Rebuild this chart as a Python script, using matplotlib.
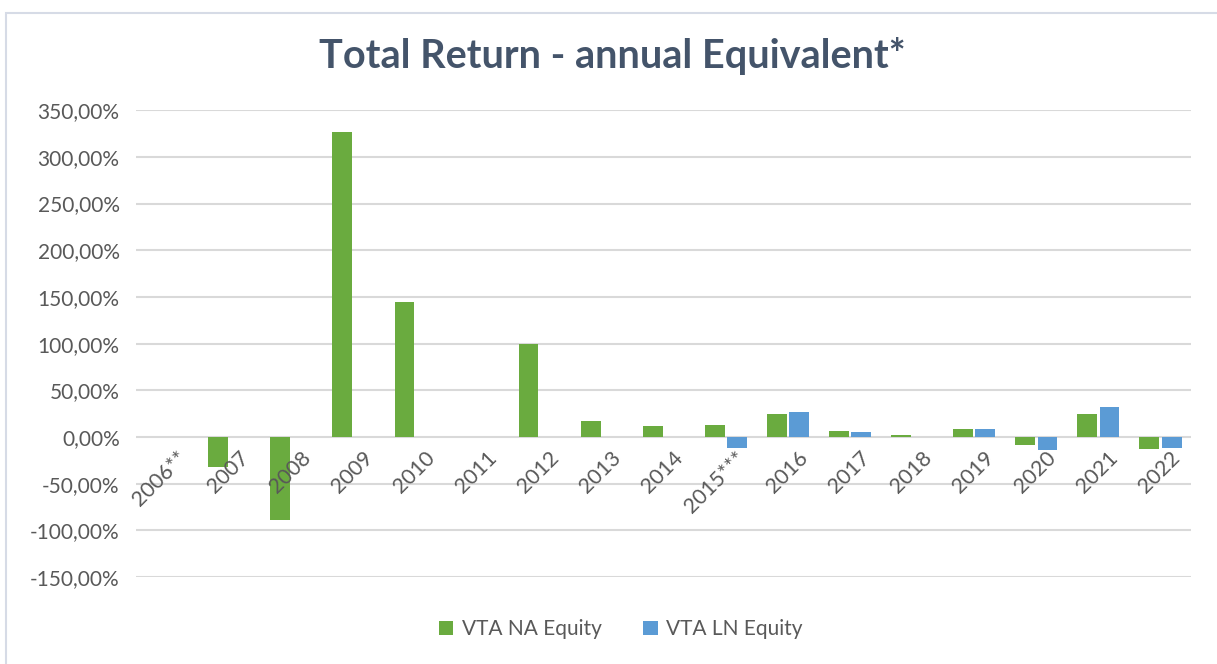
import matplotlib
matplotlib.use("Agg")
import matplotlib.pyplot as plt
import numpy as np
from matplotlib.ticker import FuncFormatter
from matplotlib.patches import Rectangle

years = ["2006**", "2007", "2008", "2009", "2010", "2011", "2012", "2013", "2014",
         "2015***", "2016", "2017", "2018", "2019", "2020", "2021", "2022"]
vta_na = [np.nan, -32, -89, 327, 145, np.nan, 100, 17, 12,
          13, 25, 6, 2, 9, -9, 25, -13]
vta_ln = [np.nan, np.nan, np.nan, np.nan, np.nan, np.nan, np.nan, np.nan, np.nan,
          -11.5, 27, 5, np.nan, 9, -14, 32, -11.5]

green = "#6aab3f"
blue = "#5b9bd5"
text_col = "#44546a"
tick_col = "#595959"
grid_col = "#d9d9d9"

plt.rcParams['font.family'] = ['Lato', 'DejaVu Sans']

fig = plt.figure(figsize=(12.17, 6.64), dpi=100)
ax = fig.add_axes([0.112, 0.131, 0.867, 0.703])

# chart frame
fig.patches.append(Rectangle((0.005, -0.01), 1.2, 0.99, transform=fig.transFigure,
                             fill=False, edgecolor="#d6dbe6", linewidth=1.5))

x = np.arange(len(years))
w = 0.32
ax.bar(x - w / 2 - 0.02, vta_na, width=w, color=green, label="VTA NA Equity", zorder=3)
ax.bar(x + w / 2 + 0.02, vta_ln, width=w, color=blue, label="VTA LN Equity", zorder=3)

ax.set_xlim(-0.5, len(years) - 0.5)
ax.set_ylim(-150, 350)
ax.set_yticks(np.arange(-150, 351, 50))
ax.yaxis.set_major_formatter(FuncFormatter(lambda v, p: f"{v:.2f}%".replace(".", ",")))
ax.grid(axis="y", color=grid_col, linewidth=1.5, zorder=0)
for s in ax.spines.values():
    s.set_visible(False)
ax.tick_params(axis="y", length=0, pad=12, labelsize=15, labelcolor=tick_col)

# category labels sit just under the zero line
ax.set_xticks(x)
ax.set_xticklabels([])
ax.tick_params(axis="x", length=0)
for i, lab in enumerate(years):
    ax.annotate(lab, xy=(i + 0.15, 0), xytext=(0, -8), textcoords="offset points",
                rotation=45, ha="right", va="top", rotation_mode="anchor",
                fontsize=15.5, color=tick_col)

fig.suptitle("Total Return - annual Equivalent*", x=0.503, y=0.945, fontsize=28.5,
             fontweight="bold", color=text_col)

fig.legend(loc="center", bbox_to_anchor=(0.51, 0.052), ncol=2, frameon=False,
           fontsize=15, handlelength=0.7, handleheight=0.7, columnspacing=2.0,
           handletextpad=0.4, labelcolor=tick_col)

fig.savefig("out.png", dpi=100)
